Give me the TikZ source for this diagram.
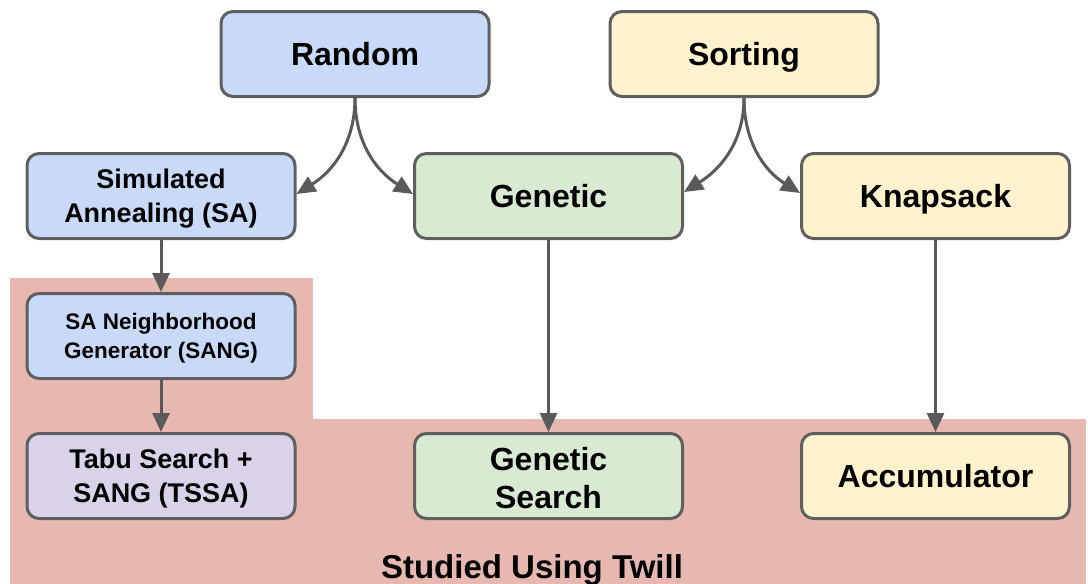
\documentclass[tikz,border=0pt]{standalone}
\usepackage{fontspec}
\setmainfont{Liberation Sans}
\usetikzlibrary{arrows.meta}
\definecolor{boxline}{HTML}{5F5F5F}
\definecolor{arrowc}{HTML}{5A5A5A}
\definecolor{bluefill}{HTML}{C9DAF8}
\definecolor{greenfill}{HTML}{D9EAD3}
\definecolor{yellowfill}{HTML}{FFF2CC}
\definecolor{purplefill}{HTML}{D9D2E9}
\definecolor{zonefill}{HTML}{E6B8AF}
\tikzset{
  box/.style={draw=boxline, line width=3pt, rounded corners=12pt,
    minimum width=268pt, minimum height=85pt, align=center,
    font=\bfseries\fontsize{32}{38}\selectfont, inner sep=0pt},
  oneline/.style={text height=23pt, text depth=0pt},
  satext/.style={font=\bfseries\fontsize{27}{34}\selectfont},
  sangtext/.style={font=\bfseries\fontsize{22.5}{29}\selectfont},
  tssatext/.style={font=\bfseries\fontsize{27}{34}\selectfont},
  arr/.style={draw=arrowc, line width=3pt,
    -{Triangle[length=19pt,width=17pt]}},
}
\begin{document}
\begin{tikzpicture}[x=1pt,y=1pt]
  \useasboundingbox (0,0) rectangle (1088,-584);
  % highlighted zone
  \fill[zonefill] (10,-278) rectangle (313,-422);
  \fill[zonefill] (10,-419) rectangle (1086,-584);
  \node[font=\bfseries\fontsize{33}{38}\selectfont] (twill) at (532,-570) {Studied Using Twill};

  % nodes
  \node[box, oneline, fill=bluefill] (random) at (355,-54) {Random};
  \node[box, oneline, fill=yellowfill] (sorting) at (744,-54) {Sorting};
  \node[box, fill=bluefill, satext] (sa) at (161,-196) {\strut Simulated\\Annealing (SA)};
  \node[box, oneline, fill=greenfill] (gen) at (548.5,-196) {Genetic};
  \node[box, oneline, fill=yellowfill] (knap) at (935.5,-196) {Knapsack};
  \node[box, fill=bluefill, sangtext] (sang) at (161,-336) {\strut SA Neighborhood\\Generator (SANG)};
  \node[box, fill=purplefill, tssatext] (tssa) at (161,-476) {\strut Tabu Search +\\SANG (TSSA)};
  \node[box, fill=greenfill] (gs) at (548.5,-476) {\strut Genetic\\Search};
  \node[box, oneline, fill=yellowfill] (acc) at (935.5,-476) {Accumulator};

  % connectors
  \draw[arr] (random.south) to[out=-90,in=32] ([yshift=2pt]sa.east);
  \draw[arr] (random.south) to[out=-90,in=148] ([yshift=2pt]gen.west);
  \draw[arr] (sorting.south) to[out=-90,in=32] ([yshift=4pt]gen.east);
  \draw[arr] (sorting.south) to[out=-90,in=148] ([yshift=3pt]knap.west);
  \draw[arr] (sa) -- (sang);
  \draw[arr] (sang) -- (tssa);
  \draw[arr] (gen) -- (gs);
  \draw[arr] (knap) -- (acc);
\end{tikzpicture}
\end{document}
